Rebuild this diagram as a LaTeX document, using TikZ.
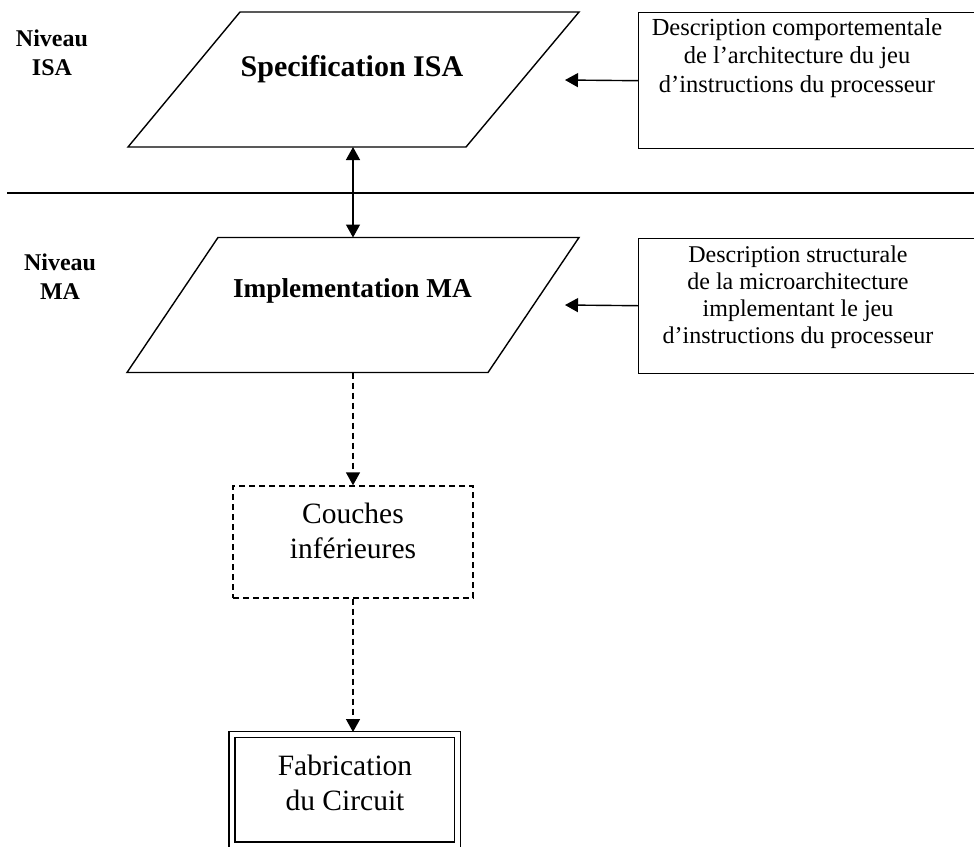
\documentclass[tikz,border=0pt]{standalone}
\usepackage{fontspec}
\setmainfont{Liberation Serif}
\usetikzlibrary{arrows.meta}

\begin{document}
\begin{tikzpicture}[x=1pt,y=-1pt,line width=1.4pt,
  tip/.style={-{Triangle[length=13pt,width=14pt]}},
  bitip/.style={{Triangle[length=13pt,width=14pt]}-{Triangle[length=13pt,width=14pt]}},
  dashline/.style={dash pattern=on 6pt off 4pt},
  level/.style={align=center,inner sep=0pt,font=\fontsize{24}{29}\selectfont\bfseries},
  title/.style={inner sep=0pt,font=\bfseries},
  desc/.style={align=center,inner sep=0pt},
  plain/.style={align=center,inner sep=0pt,font=\fontsize{29.5}{35}\selectfont},
  panel/.style={draw,rectangle,anchor=north west,inner sep=0pt}]
\useasboundingbox (0,0) rectangle (974,846);
\clip (0,0) rectangle (974,846);

% ISA level (multi-line nodes are placed by the baseline of their last line)
\node[level,anchor=base] (nivisa) at (52,75) {Niveau\\ISA};
\coordinate (p1a) at (240,12);
\coordinate (p1b) at (579,12);
\coordinate (p1c) at (466,147);
\coordinate (p1d) at (128,147);
\draw (p1a) -- (p1b) -- (p1c) -- (p1d) -- cycle;
\node[title,anchor=base,font=\fontsize{30}{36}\selectfont\bfseries] (spec) at (352,76) {Specification ISA};
\node[panel,minimum width=370pt,minimum height=136pt] (descisa) at (638,12) {};
\node[desc,anchor=base,font=\fontsize{24.5}{28.5}\selectfont] (descisatxt) at (797,92)
  {Description comportementale\\de l’architecture du jeu\\d’instructions du processeur};
\coordinate (inisa) at (565,80);
\draw[tip] (descisa.west) -- (inisa);

% separator between the levels
\coordinate (sepl) at (7,193);
\coordinate (sepr) at (990,193);
\draw (sepl) -- (sepr);

% MA level
\node[level,anchor=base] (nivma) at (60,299) {Niveau\\MA};
\coordinate (p2a) at (218,237.5);
\coordinate (p2b) at (579,237.5);
\coordinate (p2c) at (488,372.5);
\coordinate (p2d) at (127,372.5);
\draw (p2a) -- (p2b) -- (p2c) -- (p2d) -- cycle;
\node[title,anchor=base,font=\fontsize{27.3}{33}\selectfont\bfseries] (impl) at (352.5,297) {Implementation MA};
\node[panel,minimum width=370pt,minimum height=135pt] (descma) at (638,237.5) {};
\node[desc,anchor=base,font=\fontsize{24}{27}\selectfont] (descmatxt) at (798,343)
  {Description structurale\\de la microarchitecture\\implementant le jeu\\d’instructions du processeur};
\coordinate (inma) at (565,305);
\draw[tip] (descma.west) -- (inma);

% link between the two levels
\coordinate (ltop) at (353,147);
\coordinate (lbot) at (353,237.5);
\draw[bitip] (ltop) -- (lbot);

% lower layers
\node[draw,dashline,minimum width=240pt,minimum height=112pt,inner sep=0pt] (couches) at (353,542) {};
\node[plain,anchor=base] (couchestxt) at (353,558) {Couches\\inférieures};
\coordinate (mabot) at (353,372.5);
\draw[tip,dashline] (mabot) -- (couches.north);

% fabrication
\node[draw,double,double distance=4.4pt,minimum width=225.5pt,minimum height=110.5pt,inner sep=0pt] (fab) at (344.75,789.75) {};
\node[plain,anchor=base] (fabtxt) at (345,810) {Fabrication\\du Circuit};
\coordinate (fabin) at (353,732);
\draw[tip,dashline] (couches.south -| fabin) -- (fabin);
\end{tikzpicture}
\end{document}
